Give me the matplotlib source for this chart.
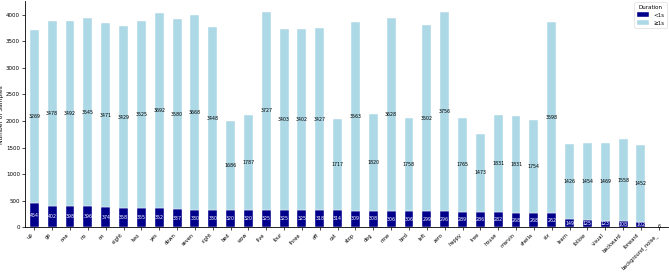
import matplotlib.pyplot as plt
import numpy as np

# Sample counts per keyword, split by clip duration
words = ['up', 'go', 'one', 'no', 'on', 'eight', 'two', 'yes', 'down', 'seven', 'right',
         'bed', 'wow', 'five', 'four', 'three', 'off', 'cat', 'stop', 'dog', 'nine', 'bird',
         'left', 'zero', 'happy', 'tree', 'house', 'marvin', 'sheila', 'six', 'learn',
         'follow', 'visual', 'backward', 'forward', 'background_noise_']
short = [454, 402, 398, 396, 374, 358, 355, 352, 337, 330, 330,
         320, 320, 325, 325, 325, 318, 314, 309, 308, 306, 306,
         299, 296, 289, 286, 282, 268, 268, 262, 149,
         125, 123, 108, 102, 0]
long_ = [3269, 3478, 3492, 3545, 3471, 3429, 3525, 3692, 3580, 3668, 3448,
         1686, 1787, 3727, 3403, 3402, 3427, 1717, 3563, 1820, 3628, 1758,
         3502, 3756, 1765, 1473, 1831, 1831, 1754, 3598, 1426,
         1454, 1469, 1558, 1452, 6]

x = np.arange(len(words))
fig, ax = plt.subplots(figsize=(6.69, 2.72), dpi=100)
b1 = ax.bar(x, short, width=0.5, color='darkblue', edgecolor='white', linewidth=0.3, label='<1s')
b2 = ax.bar(x, long_, width=0.5, bottom=short, color='lightblue', edgecolor='white',
            linewidth=0.3, label='≥1s')

ax.bar_label(b1, labels=[str(v) if v > 0 else '' for v in short], label_type='center',
             color='white', fontsize=3.4)
ax.bar_label(b2, labels=[str(v) if v > 0 else '' for v in long_], label_type='center',
             color='black', fontsize=3.4)

ax.set_xticks(x)
ax.set_xticklabels(words, rotation=45, ha='right', fontsize=3.7)
ax.tick_params(axis='y', labelsize=4, length=2.5, width=0.5, pad=1.5)
ax.tick_params(axis='x', length=2.5, width=0.5, pad=1.2)
ax.set_xlim(-0.5, len(words) - 0.5)
ax.set_ylabel('Number of Samples', fontsize=4.2, labelpad=1.5)
ax.spines['top'].set_visible(False)
ax.spines['right'].set_visible(False)
for s in ['left', 'bottom']:
    ax.spines[s].set_linewidth(0.6)

leg = ax.legend(title='Duration', fontsize=4, title_fontsize=4, loc='upper right',
                borderaxespad=0.2, handlelength=2.2, handleheight=0.9)
leg.get_frame().set_linewidth(0.4)

plt.subplots_adjust(left=0.038, right=0.998, top=0.995, bottom=0.165)
plt.savefig('out.png', dpi=100)
